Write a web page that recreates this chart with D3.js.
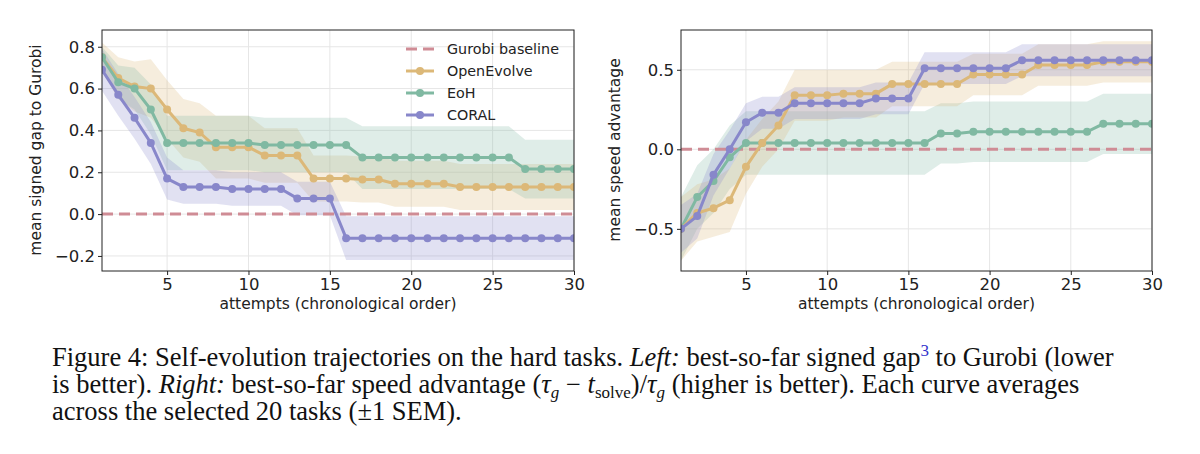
<!DOCTYPE html>
<html><head><meta charset="utf-8">
<script src="https://cdn.jsdelivr.net/npm/d3@7"></script>
<style>body{margin:0;background:#fff;} text{font-family:"DejaVu Sans",sans-serif;}</style>
</head><body>
<svg id="c" width="1200" height="454"></svg>
<script>
const attempts = d3.range(1,31);
// Left panel: mean signed gap to Gurobi
const gapOpenEvolve = [0.75,0.65,0.61,0.60,0.50,0.41,0.39,0.32,0.32,0.32,0.28,0.28,0.28,0.17,0.17,0.17,0.165,0.165,0.145,0.145,0.145,0.145,0.13,0.13,0.13,0.13,0.13,0.13,0.13,0.13];
const gapEoH = [0.75,0.63,0.60,0.50,0.34,0.34,0.34,0.34,0.34,0.34,0.33,0.33,0.33,0.33,0.33,0.33,0.27,0.27,0.27,0.27,0.27,0.27,0.27,0.27,0.27,0.27,0.215,0.215,0.215,0.215];
const gapCORAL = [0.69,0.57,0.46,0.34,0.17,0.13,0.13,0.13,0.12,0.12,0.12,0.12,0.075,0.075,0.075,-0.115,-0.115,-0.115,-0.115,-0.115,-0.115,-0.115,-0.115,-0.115,-0.115,-0.115,-0.115,-0.115,-0.115,-0.115];
const gapSemOpenEvolve = [0.07,0.1,0.12,0.14,0.14,0.14,0.14,0.15,0.15,0.15,0.13,0.13,0.13,0.11,0.11,0.11,0.11,0.11,0.11,0.11,0.11,0.11,0.11,0.11,0.11,0.11,0.11,0.11,0.11,0.11];
const gapSemEoH = [0.05,0.08,0.1,0.12,0.13,0.13,0.13,0.13,0.13,0.13,0.13,0.13,0.13,0.13,0.13,0.13,0.15,0.15,0.15,0.15,0.15,0.15,0.15,0.15,0.15,0.15,0.14,0.14,0.14,0.14];
const gapSemCORAL = [0.1,0.1,0.1,0.1,0.1,0.08,0.08,0.08,0.08,0.08,0.08,0.08,0.08,0.08,0.08,0.105,0.105,0.105,0.105,0.105,0.105,0.105,0.105,0.105,0.105,0.105,0.105,0.105,0.105,0.105];
// Right panel: mean speed advantage
const spdOpenEvolve = [-0.50,-0.40,-0.37,-0.32,-0.11,0.04,0.15,0.34,0.34,0.34,0.35,0.35,0.35,0.41,0.41,0.41,0.41,0.41,0.47,0.47,0.47,0.47,0.53,0.53,0.53,0.53,0.55,0.55,0.55,0.55];
const spdEoH = [-0.50,-0.30,-0.20,-0.05,0.04,0.04,0.04,0.04,0.04,0.04,0.04,0.04,0.04,0.04,0.04,0.04,0.10,0.10,0.11,0.11,0.11,0.11,0.11,0.11,0.11,0.11,0.16,0.16,0.16,0.16];
const spdCORAL = [-0.50,-0.42,-0.16,0.0,0.17,0.23,0.23,0.29,0.29,0.29,0.29,0.29,0.32,0.32,0.32,0.51,0.51,0.51,0.51,0.51,0.51,0.56,0.56,0.56,0.56,0.56,0.56,0.56,0.56,0.56];
const spdSemOpenEvolve = [0.2,0.18,0.18,0.2,0.17,0.15,0.15,0.16,0.16,0.16,0.15,0.15,0.15,0.14,0.14,0.14,0.14,0.14,0.13,0.13,0.13,0.13,0.13,0.13,0.13,0.13,0.13,0.13,0.13,0.13];
const spdSemEoH = [0.2,0.2,0.2,0.2,0.2,0.2,0.2,0.2,0.2,0.2,0.2,0.2,0.2,0.2,0.2,0.2,0.19,0.19,0.19,0.19,0.19,0.19,0.19,0.19,0.19,0.19,0.19,0.19,0.19,0.19];
const spdSemCORAL = [0.15,0.14,0.13,0.12,0.12,0.1,0.1,0.1,0.1,0.1,0.1,0.1,0.1,0.1,0.1,0.1,0.1,0.1,0.1,0.1,0.1,0.1,0.1,0.1,0.1,0.1,0.1,0.1,0.1,0.1];
const seriesNames = ["Gurobi baseline","OpenEvolve","EoH","CORAL"];
const colors = {"Gurobi baseline":"#cf8c95","OpenEvolve":"#dcb878","EoH":"#80b9a2","CORAL":"#8887ca"};
const xTicks = [5,10,15,20,25,30];

const svg = d3.select("#c");
function panel(opt){
  const g = svg.append("g");
  const x = d3.scaleLinear().domain([1,30]).range([opt.x0,opt.x1]);
  const y = d3.scaleLinear().domain(opt.yd).range([271,30]);
  g.selectAll(".gx").data(xTicks).enter().append("line").attr("x1",d=>x(d)).attr("x2",d=>x(d)).attr("y1",30).attr("y2",271).attr("stroke","#e6e6e6");
  g.selectAll(".gy").data(opt.yt).enter().append("line").attr("x1",opt.x0).attr("x2",opt.x1).attr("y1",d=>y(d)).attr("y2",d=>y(d)).attr("stroke","#e6e6e6");
  const clip = "clip"+opt.x0;
  svg.append("clipPath").attr("id",clip).append("rect").attr("x",opt.x0).attr("y",30).attr("width",opt.x1-opt.x0).attr("height",241);
  const pg = g.append("g").attr("clip-path",`url(#${clip})`);
  opt.series.forEach(s=>{
    pg.append("path").datum(attempts.map((a,i)=>[a,s.v[i],s.e[i]]))
      .attr("d",d3.area().x(d=>x(d[0])).y0(d=>y(d[1]-d[2])).y1(d=>y(d[1]+d[2])))
      .attr("fill",colors[s.n]).attr("opacity",0.25);
  });
  pg.append("line").attr("x1",opt.x0).attr("x2",opt.x1).attr("y1",y(0)).attr("y2",y(0))
    .attr("stroke",colors["Gurobi baseline"]).attr("stroke-width",3).attr("stroke-dasharray","11,6");
  opt.series.forEach(s=>{
    pg.append("path").datum(attempts.map((a,i)=>[a,s.v[i]]))
      .attr("d",d3.line().x(d=>x(d[0])).y(d=>y(d[1]))).attr("fill","none")
      .attr("stroke",colors[s.n]).attr("stroke-width",3);
    pg.selectAll(null).data(attempts.map((a,i)=>[a,s.v[i]])).enter().append("circle")
      .attr("cx",d=>x(d[0])).attr("cy",d=>y(d[1])).attr("r",4).attr("fill",colors[s.n]);
  });
  g.append("rect").attr("x",opt.x0).attr("y",30).attr("width",opt.x1-opt.x0).attr("height",241).attr("fill","none").attr("stroke","#222").attr("stroke-width",1);
  const xa = g.append("g").attr("transform","translate(0,271)").call(d3.axisBottom(x).tickValues(xTicks).tickSize(4).tickFormat(d3.format("d")));
  const ya = g.append("g").attr("transform",`translate(${opt.x0},0)`).call(d3.axisLeft(y).tickValues(opt.yt).tickSize(4).tickFormat(opt.fmt));
  [xa,ya].forEach(a=>{a.select(".domain").remove();a.selectAll("text").attr("font-size",16.5).attr("fill","#222");a.selectAll("line").attr("stroke","#222");});
  g.append("text").attr("x",(opt.x0+opt.x1)/2).attr("y",309).attr("text-anchor","middle").attr("font-size",15.5).attr("fill","#222").text("attempts (chronological order)");
  g.append("text").attr("transform",`translate(${opt.ylx},150) rotate(-90)`).attr("text-anchor","middle").attr("font-size",15.5).attr("fill","#222").text(opt.ylab);
  return g;
}
const fmt1 = d=>d3.format(".1f")(d).replace("-","\u2212");
const left = panel({x0:102,x1:574,yd:[-0.272,0.88],yt:[-0.2,0,0.2,0.4,0.6,0.8],fmt:fmt1,ylx:41,ylab:"mean signed gap to Gurobi",
  series:[{n:"OpenEvolve",v:gapOpenEvolve,e:gapSemOpenEvolve},{n:"EoH",v:gapEoH,e:gapSemEoH},{n:"CORAL",v:gapCORAL,e:gapSemCORAL}]});
panel({x0:681,x1:1152,yd:[-0.765,0.75],yt:[-0.5,0,0.5],fmt:fmt1,ylx:620,ylab:"mean speed advantage",
  series:[{n:"EoH",v:spdEoH,e:spdSemEoH},{n:"OpenEvolve",v:spdOpenEvolve,e:spdSemOpenEvolve},{n:"CORAL",v:spdCORAL,e:spdSemCORAL}]});
const lg = left.append("g");
seriesNames.forEach((n,i)=>{
  const yy = 49+i*22;
  lg.append("line").attr("x1",406).attr("x2",434).attr("y1",yy).attr("y2",yy).attr("stroke",colors[n]).attr("stroke-width",3).attr("stroke-dasharray",i==0?"11,6":null);
  if(i>0) lg.append("circle").attr("cx",420).attr("cy",yy).attr("r",4).attr("fill",colors[n]);
  lg.append("text").attr("x",447).attr("y",yy+5).attr("font-size",14.3).attr("fill","#222").text(n);
});
const FS = 26.5, SUB = 17;
const cap = svg.append("g").attr("font-size",FS).attr("fill","#111");
const t1 = cap.append("text").attr("x",52).attr("y",366).style("font-family","Liberation Serif");
t1.append("tspan").text("Figure 4: Self-evolution trajectories on the hard tasks. ");
t1.append("tspan").attr("font-style","italic").text("Left:");
t1.append("tspan").text(" best-so-far signed gap");
t1.append("tspan").attr("fill","#3333cc").attr("font-size",SUB).attr("dy",-10).text("3");
t1.append("tspan").attr("dy",10).text(" to Gurobi (lower");
const t2 = cap.append("text").attr("x",52).attr("y",393).style("font-family","Liberation Serif");
t2.append("tspan").text("is better). ");
t2.append("tspan").attr("font-style","italic").text("Right:");
t2.append("tspan").text(" best-so-far speed advantage (");
t2.append("tspan").attr("font-style","italic").text("τ");
t2.append("tspan").attr("font-size",SUB).attr("dy",5).attr("font-style","italic").text("g");
t2.append("tspan").attr("dy",-5).text(" − ");
t2.append("tspan").attr("font-style","italic").text("t");
t2.append("tspan").attr("font-size",SUB).attr("dy",5).text("solve");
t2.append("tspan").attr("dy",-5).text(")/");
t2.append("tspan").attr("font-style","italic").text("τ");
t2.append("tspan").attr("font-size",SUB).attr("dy",5).attr("font-style","italic").text("g");
t2.append("tspan").attr("dy",-5).text(" (higher is better). Each curve averages");
cap.append("text").attr("x",52).attr("y",420).style("font-family","Liberation Serif").text("across the selected 20 tasks (±1 SEM).");
</script>
</body></html>
